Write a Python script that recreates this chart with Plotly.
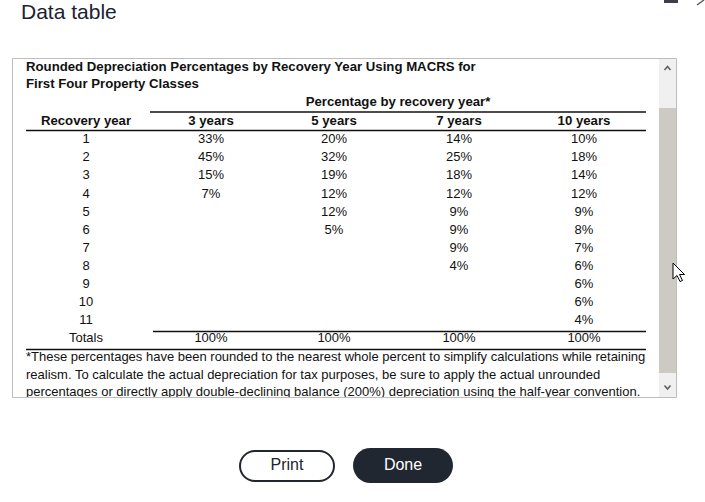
import plotly.graph_objects as go

# ---------------- data ----------------
recovery_years = [str(i) for i in range(1, 12)]
pct_3yr = [33, 45, 15, 7]
pct_5yr = [20, 32, 19, 12, 12, 5]
pct_7yr = [14, 25, 18, 12, 9, 9, 9, 4]
pct_10yr = [10, 18, 14, 12, 9, 8, 7, 6, 6, 6, 4]
class_labels = ["3 years", "5 years", "7 years", "10 years"]
first_col_label = "Recovery year"
totals_label = "Totals"
group_label = "Percentage by recovery year*"
title_lines = ["Rounded Depreciation Percentages by Recovery Year Using MACRS for",
               "First Four Property Classes"]
footnote_lines = [
    "*These percentages have been rounded to the nearest whole percent to simplify calculations while retaining",
    "realism. To calculate the actual depreciation for tax purposes, be sure to apply the actual unrounded",
    "percentages or directly apply double-declining balance (200%) depreciation using the half-year convention.",
]

# ---------------- layout constants ----------------
W, H = 705, 502
FONT = "Liberation Sans, Arial, sans-serif"
TXT = "#111111"
BODY = 13
BOLD = 13.2
col_x = [86, 211, 334, 459, 584]
row_y0, row_h = 140, 18.1
text_left = 27
line_right = 646
box = dict(x0=12.5, y0=58.5, x1=676.5, y1=397.5)
sb_x0 = 659

series = [pct_3yr, pct_5yr, pct_7yr, pct_10yr]

fig = go.Figure()

def add_text(xs, ys, texts, size=BODY, bold=False, color=TXT, pos="middle center"):
    fig.add_trace(go.Scatter(
        x=xs, y=ys, text=texts, mode="text", textposition=pos,
        textfont=dict(family=FONT, size=size, color=color, weight=700 if bold else 400),
        hoverinfo="skip", showlegend=False, cliponaxis=False))

# Title of dialog
add_text([21], [14], ["Data table"], size=21, color="#1b2230", pos="middle right")

# Table title
add_text([text_left - 1] * 2, [68, 84.5], title_lines, size=BOLD, bold=True, pos="middle right")

# Group header
add_text([(150 + line_right) / 2], [103], [group_label], size=BOLD, bold=True)

# Column headers
add_text(col_x, [122] * 5, [first_col_label] + class_labels, size=BOLD, bold=True)

# Body
row_ys = [row_y0 + i * row_h for i in range(len(recovery_years))]
add_text([col_x[0]] * len(recovery_years), row_ys, recovery_years)
for j, vals in enumerate(series):
    add_text([col_x[j + 1]] * len(vals), row_ys[:len(vals)], [f"{v}%" for v in vals])

# Totals
tot_y = row_y0 + len(recovery_years) * row_h
add_text(col_x, [tot_y] * 5, [totals_label] + [f"{sum(v)}%" for v in series])

# Footnote
add_text([text_left - 1] * 3, [358, 375.5, 393], footnote_lines, size=BODY, pos="middle right")

shapes = []
def hline(x0, x1, y, w=1.3, color="#111111"):
    shapes.append(dict(type="line", x0=x0, x1=x1, y0=y, y1=y, line=dict(color=color, width=w)))

hline(150, line_right, 112)
hline(26, line_right, 130.5)
hline(153, line_right, 331.5)
hline(26, line_right, 349.5)

# clip mask below box and box border
shapes.append(dict(type="rect", x0=box["x0"] + 1, x1=sb_x0, y0=box["y1"], y1=405,
                   fillcolor="white", line=dict(width=0), layer="above"))
# scrollbar
shapes.append(dict(type="rect", x0=sb_x0, x1=box["x1"], y0=box["y0"], y1=box["y1"],
                   fillcolor="#f0f0f0", line=dict(width=0), layer="above"))
shapes.append(dict(type="rect", x0=sb_x0, x1=box["x1"], y0=108, y1=373,
                   fillcolor="#cdcac4", line=dict(width=0), layer="above"))
shapes.append(dict(type="path", path="M 664.5 70 L 667.5 66.5 L 670.5 70",
                   line=dict(color="#606060", width=1.6), layer="above"))
shapes.append(dict(type="path", path="M 664.5 385.5 L 667.5 389 L 670.5 385.5",
                   line=dict(color="#606060", width=1.6), layer="above"))
shapes.append(dict(type="rect", x0=box["x0"], x1=box["x1"], y0=box["y0"], y1=box["y1"],
                   line=dict(color="#bdbdbd", width=1), fillcolor="rgba(0,0,0,0)", layer="above"))

# top-right partial icons
shapes.append(dict(type="rect", x0=664, x1=678, y0=0, y1=3, fillcolor="#3a3f48",
                   line=dict(width=0)))
shapes.append(dict(type="line", x0=697, y0=5, x1=704, y1=0, line=dict(color="#555b66", width=1.5)))

# buttons (pill shapes)
def pill(x0, x1, y0, y1):
    r = (y1 - y0) / 2
    k = 0.5523 * r
    return (f"M {x0 + r} {y0} L {x1 - r} {y0} "
            f"C {x1 - r + k} {y0} {x1} {y0 + r - k} {x1} {y0 + r} "
            f"C {x1} {y0 + r + k} {x1 - r + k} {y1} {x1 - r} {y1} "
            f"L {x0 + r} {y1} "
            f"C {x0 + r - k} {y1} {x0} {y0 + r + k} {x0} {y0 + r} "
            f"C {x0} {y0 + r - k} {x0 + r - k} {y0} {x0 + r} {y0} Z")

shapes.append(dict(type="path", path=pill(240, 334, 451, 481),
                   line=dict(color="#22262e", width=2), fillcolor="white", layer="below"))
shapes.append(dict(type="path", path=pill(353, 453, 448, 483),
                   line=dict(width=0), fillcolor="#212731", layer="below"))

# mouse cursor
shapes.append(dict(type="path",
                   path="M 673 263 L 673 279 L 677 275.5 L 680 281.5 L 682.5 280.5 L 679.5 274.5 L 684.5 274.5 Z",
                   fillcolor="white", line=dict(color="#000000", width=1), layer="above"))

add_text([287], [466], ["Print"], size=16, color="#1b2230")
add_text([403], [466], ["Done"], size=16, color="white")

fig.update_layout(
    width=W, height=H, margin=dict(l=0, r=0, t=0, b=0),
    paper_bgcolor="white", plot_bgcolor="white",
    xaxis=dict(range=[0, W], visible=False, fixedrange=True),
    yaxis=dict(range=[H, 0], visible=False, fixedrange=True),
    shapes=shapes, showlegend=False,
)

fig.write_html(
    "out.html",
    config={"displayModeBar": False},
    post_script="document.body.style.margin='0px';document.body.style.overflow='hidden';",
)
